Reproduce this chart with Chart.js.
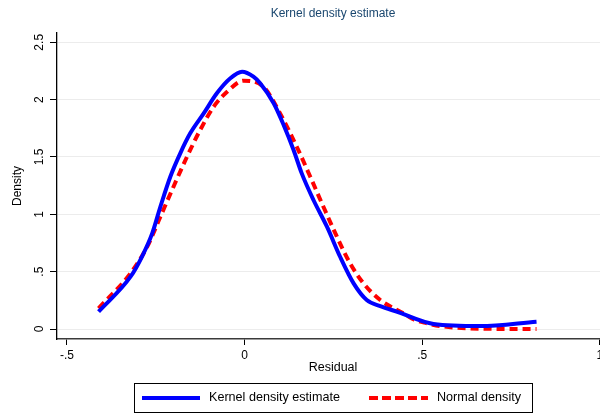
<!DOCTYPE html>
<html>
<head>
<meta charset="utf-8">
<script src="https://cdn.jsdelivr.net/npm/chart.js@4/dist/chart.umd.min.js"></script>
<style>
  html, body { margin: 0; padding: 0; background: #fff; overflow: hidden; }
  #chartBox { width: 612px; height: 415px; }
</style>
</head>
<body>
<div id="chartBox"><canvas id="chart" width="612" height="415"></canvas></div>
<script>
// Values.
const chartTitle = "Kernel density estimate";
const xTitle = "Residual";
const yTitle = "Density";

const kdeX = [-0.411, -0.321, -0.289, -0.260, -0.237, -0.209, -0.181, -0.153, -0.115, -0.078,
  -0.040, -0.007, 0.025, 0.044, 0.082, 0.110, 0.138, 0.161, 0.194, 0.232,
  0.269, 0.307, 0.344, 0.382, 0.430, 0.532, 0.663, 0.822];
const kdeY = [0.151, 0.456, 0.630, 0.834, 1.066, 1.328, 1.532, 1.706, 1.880, 2.055,
  2.186, 2.243, 2.200, 2.142, 1.968, 1.779, 1.561, 1.357, 1.125, 0.892,
  0.630, 0.398, 0.253, 0.200, 0.150, 0.044, 0.026, 0.064];

const normX = [-0.411, -0.321, -0.274, -0.237, -0.200, -0.162, -0.125, -0.087, -0.049, -0.003,
  0.053, 0.100, 0.147, 0.185, 0.222, 0.260, 0.297, 0.335, 0.382, 0.447,
  0.475, 0.513, 0.550, 0.663, 0.822];
const normY = [0.180, 0.486, 0.718, 0.979, 1.241, 1.502, 1.735, 1.938, 2.069, 2.165,
  2.112, 1.880, 1.589, 1.328, 1.066, 0.805, 0.573, 0.398, 0.253, 0.137,
  0.085, 0.050, 0.026, 0.003, 0.000];

const xTicks = [-0.5, 0, 0.5, 1];
const yTicks = [0, 0.5, 1, 1.5, 2, 2.5];
const xRange = [-0.528, 1.026];
const yRange = [-0.087, 2.581];

const legendLabels = ["Kernel density estimate", "Normal density"];

const FONT = "'Liberation Sans', Arial, Helvetica, sans-serif";

// Stata style labels: drop the leading zero.
const stataNum = (v) => String(v).replace(/^(-?)0\./, "$1.");

const toPoints = (xs, ys) => xs.map((x, i) => ({ x, y: ys[i] }));

// Title and legend are centred on the plot region, as Stata does.
const stataFrame = {
  id: "stataFrame",
  afterDraw(chart) {
    const { ctx, chartArea } = chart;
    const cx = (chartArea.left + chartArea.right) / 2;
    ctx.save();
    ctx.font = "12px " + FONT;
    ctx.fillStyle = "#1a476f";
    ctx.textAlign = "center";
    ctx.textBaseline = "middle";
    ctx.fillText(chartTitle, cx, 14);

    const boxW = 398, boxH = 29, top = 383.5;
    const left = Math.round(cx - boxW / 2) + 0.5;
    const midY = top + boxH / 2;
    ctx.strokeStyle = "#000";
    ctx.lineWidth = 1;
    ctx.strokeRect(left, top, boxW, boxH);

    ctx.lineWidth = 4;
    ctx.strokeStyle = "#0000ff";
    ctx.beginPath();
    ctx.moveTo(left + 7.5, midY);
    ctx.lineTo(left + 65.5, midY);
    ctx.stroke();

    ctx.strokeStyle = "#ff0000";
    ctx.setLineDash([9, 4]);
    ctx.beginPath();
    ctx.moveTo(left + 234.5, midY);
    ctx.lineTo(left + 293.5, midY);
    ctx.stroke();
    ctx.setLineDash([]);

    ctx.font = "12.6px " + FONT;
    ctx.fillStyle = "#000";
    ctx.textAlign = "left";
    ctx.fillText(legendLabels[0], left + 74.5, midY);
    ctx.fillText(legendLabels[1], left + 302.5, midY);
    ctx.restore();
  },
};

const chart = new Chart(document.getElementById("chart"), {
  type: "scatter",
  data: {
    datasets: [
      {
        label: legendLabels[0],
        data: toPoints(kdeX, kdeY),
        showLine: true,
        borderColor: "#0000ff",
        borderWidth: 4,
        pointRadius: 0,
        cubicInterpolationMode: "monotone",
      },
      {
        label: legendLabels[1],
        data: toPoints(normX, normY),
        showLine: true,
        borderColor: "#ff0000",
        borderWidth: 4,
        borderDash: [8, 5],
        pointRadius: 0,
        cubicInterpolationMode: "monotone",
      },
    ],
  },
  options: {
    responsive: false,
    animation: false,
    events: [],
    layout: { padding: { top: 33, right: 3, bottom: 36, left: 0 } },
    plugins: {
      legend: { display: false },
      title: { display: false },
      tooltip: { enabled: false },
    },
    scales: {
      x: {
        type: "linear",
        min: xRange[0],
        max: xRange[1],
        afterBuildTicks: (s) => { s.ticks = xTicks.map((v) => ({ value: v })); },
        afterFit: (s) => { s.height = 40; },
        border: { color: "#3a3a3a", width: 1.5 },
        grid: { drawOnChartArea: false, tickLength: 6, tickColor: "#000", tickWidth: 1 },
        ticks: {
          padding: 3,
          maxRotation: 0,
          color: "#000",
          font: { family: FONT, size: 12 },
          callback: (v) => stataNum(v),
        },
        title: {
          display: true,
          text: xTitle,
          color: "#000",
          padding: { top: 0, bottom: 4 },
          font: { family: FONT, size: 12.5 },
        },
      },
      y: {
        type: "linear",
        min: yRange[0],
        max: yRange[1],
        afterBuildTicks: (s) => { s.ticks = yTicks.map((v) => ({ value: v })); },
        afterFit: (s) => { s.width = 57; },
        border: { color: "#000", width: 1.3 },
        grid: { color: "#ececec", lineWidth: 1, tickLength: 7, tickColor: "#000", tickWidth: 1 },
        ticks: {
          minRotation: 90,
          maxRotation: 90,
          crossAlign: "center",
          padding: 2,
          color: "#000",
          font: { family: FONT, size: 12 },
          callback: (v) => stataNum(v),
        },
        title: {
          display: true,
          text: yTitle,
          color: "#000",
          padding: { top: 10, bottom: 0 },
          font: { family: FONT, size: 12 },
        },
      },
    },
  },
  plugins: [stataFrame],
});
</script>
</body>
</html>
